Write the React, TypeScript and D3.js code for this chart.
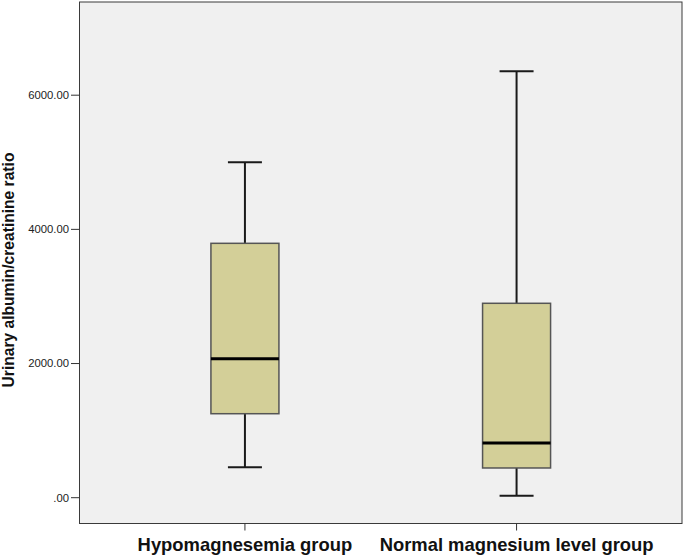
import React from "react";
import * as d3 from "d3";

const categories = ["Hypomagnesemia group", "Normal magnesium level group"];
const whiskerLow = [453, 30];
const q1 = [1252, 443];
const medians = [2072, 815];
const q3 = [3792, 2898];
const whiskerHigh = [5000, 6356];
const yTicks = [0, 2000, 4000, 6000];

const W = 685;
const H = 556;
const plot = { left: 79.5, right: 682, top: 2, bottom: 523.5 };

export default function App() {
  const y = d3.scaleLinear().domain([0, 6000]).range([497.7, 95.2]);
  const x = d3.scalePoint().domain(categories).range([plot.left, plot.right]).padding(0.609);
  const fmt = (v: number) => (v === 0 ? ".00" : d3.format(".2f")(v));
  const boxW = 68;
  const capW = 34;
  return (
    <svg width={W} height={H} style={{ position: "absolute", left: 0, top: 0, background: "#fff" }} fontFamily="Arial, 'Liberation Sans', sans-serif">
      <rect x={plot.left} y={plot.top} width={plot.right - plot.left} height={plot.bottom - plot.top} fill="#f0f0f0" stroke="#3a3a3a" strokeWidth={1} />
      {yTicks.map((t) => (
        <g key={t}>
          <line x1={71} x2={plot.left} y1={y(t)} y2={y(t)} stroke="#333" strokeWidth={1} />
          <text x={69} y={y(t)} dy="0.35em" textAnchor="end" fontSize={11.3} fill="#222">{fmt(t)}</text>
        </g>
      ))}
      {categories.map((c, i) => {
        const cx = x(c) as number;
        return (
          <g key={c}>
            <line x1={cx} x2={cx} y1={plot.bottom} y2={plot.bottom + 7} stroke="#333" />
            <text x={cx} y={551} textAnchor="middle" fontSize={18.4} fontWeight="bold" fill="#111">{c}</text>
            <line x1={cx} x2={cx} y1={y(whiskerHigh[i])} y2={y(q3[i])} stroke="#1a1a1a" strokeWidth={2} />
            <line x1={cx} x2={cx} y1={y(q1[i])} y2={y(whiskerLow[i])} stroke="#1a1a1a" strokeWidth={2} />
            <line x1={cx - capW / 2} x2={cx + capW / 2} y1={y(whiskerHigh[i])} y2={y(whiskerHigh[i])} stroke="#1a1a1a" strokeWidth={2} />
            <line x1={cx - capW / 2} x2={cx + capW / 2} y1={y(whiskerLow[i])} y2={y(whiskerLow[i])} stroke="#1a1a1a" strokeWidth={2} />
            <rect x={cx - boxW / 2} y={y(q3[i])} width={boxW} height={y(q1[i]) - y(q3[i])} fill="#d3cf98" stroke="#555" strokeWidth={1.5} />
            <line x1={cx - boxW / 2} x2={cx + boxW / 2} y1={y(medians[i])} y2={y(medians[i])} stroke="#000" strokeWidth={3} />
          </g>
        );
      })}
      <text transform={`translate(14, 270) rotate(-90)`} textAnchor="middle" fontSize={15.6} fontWeight="bold" fill="#111">Urinary albumin/creatinine ratio</text>
    </svg>
  );
}
